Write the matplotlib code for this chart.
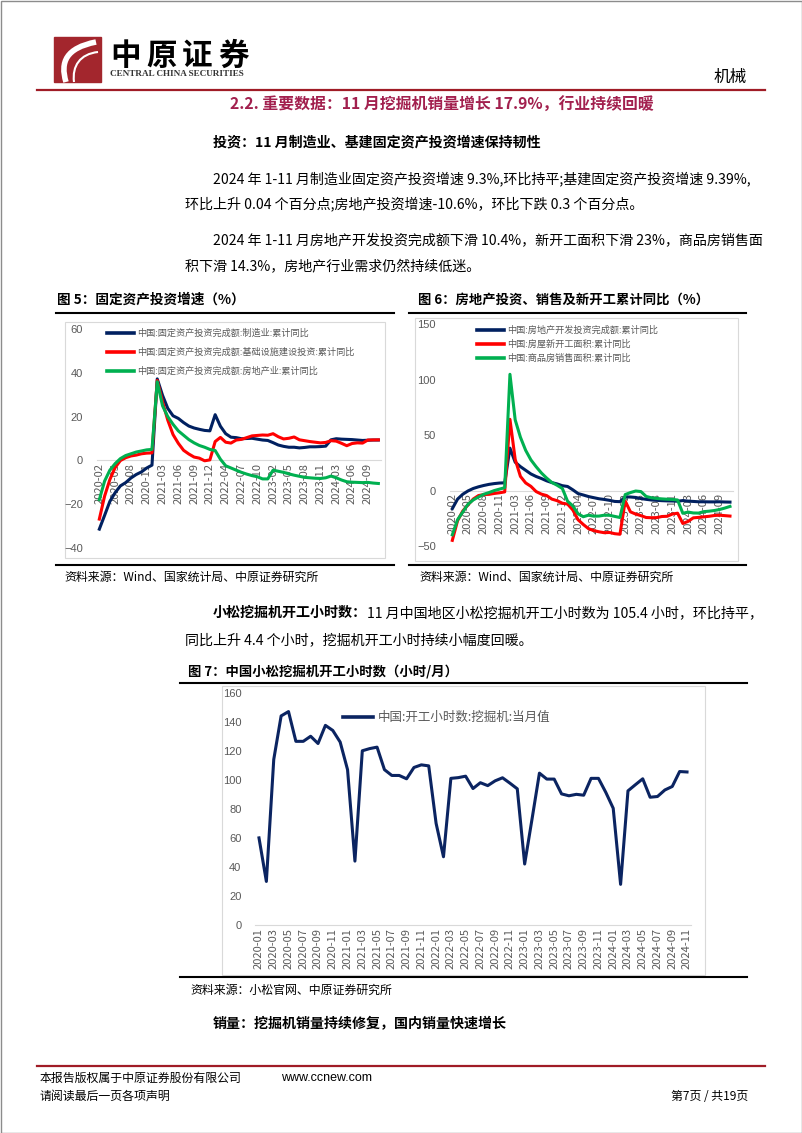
import matplotlib
matplotlib.use('Agg')
import matplotlib.pyplot as plt
from matplotlib.patches import Rectangle, PathPatch
from matplotlib.path import Path

plt.rcParams['font.family'] = ['Noto Sans CJK SC', 'DejaVu Sans']

# ---------------- data ----------------
# cumulative yoy series: Feb..Dec each year (Jan merged), 2020-02 .. 2024-11
cum_months = []
for yr in range(2020, 2025):
    last = 11 if yr == 2024 else 12
    for m in range(2, last + 1):
        cum_months.append('%d-%02d' % (yr, m))

fai_mfg = [-31.5, -25.2, -18.8, -14.8, -11.7, -10.2, -8.1, -6.5, -5.3, -3.5, -2.2,
           37.3, 29.8, 23.8, 20.4, 19.2, 17.3, 15.7, 14.8, 14.2, 13.7, 13.5,
           20.9, 15.6, 12.2, 10.6, 10.4, 9.9, 10.0, 10.1, 9.7, 9.3, 9.1,
           8.1, 7.0, 6.4, 6.0, 6.0, 5.7, 5.9, 6.2, 6.2, 6.3, 6.5,
           9.4, 9.9, 9.7, 9.6, 9.5, 9.3, 9.1, 9.2, 9.3, 9.3]
fai_infra = [-26.9, -16.4, -8.8, -3.3, -0.1, 1.2, 2.0, 2.4, 3.0, 3.3, 3.4,
             36.6, 26.8, 18.4, 11.8, 7.8, 4.6, 2.9, 1.5, 1.0, -0.2, 0.2,
             8.6, 10.5, 8.3, 7.9, 9.3, 9.6, 10.4, 11.2, 11.4, 11.6, 11.5,
             12.2, 10.8, 9.8, 10.1, 10.7, 9.4, 9.0, 8.6, 8.3, 8.0, 8.2,
             9.0, 8.8, 7.8, 6.7, 7.7, 8.0, 7.9, 9.3, 9.35, 9.39]
fai_estate = [-18.0, -9.5, -4.5, -1.5, 0.8, 2.2, 3.0, 3.8, 4.3, 4.8, 5.0,
              36.0, 25.0, 20.0, 16.5, 13.5, 11.5, 9.5, 8.0, 6.8, 6.0, 5.0,
              4.5, 0.5, -2.5, -3.5, -4.5, -5.5, -6.3, -7.0, -7.5, -8.5, -8.5,
              -4.5, -5.0, -5.5, -6.2, -6.8, -7.3, -7.8, -8.0, -8.2, -8.3, -8.0,
              -7.2, -8.0, -9.0, -9.8, -10.0, -10.1, -10.2, -10.1, -10.4, -10.6]

re_invest = [-16.3, -7.7, -3.3, -0.3, 1.9, 3.4, 4.6, 5.6, 6.3, 6.8, 7.0,
             38.3, 25.6, 21.6, 18.3, 15.0, 12.7, 10.9, 8.8, 7.2, 6.0, 4.4,
             3.7, 0.7, -2.7, -4.0, -5.4, -6.4, -7.4, -8.0, -8.8, -9.8, -10.0,
             -5.7, -5.8, -6.2, -7.2, -7.9, -8.5, -8.8, -9.1, -9.3, -9.4, -9.6,
             -9.0, -9.5, -9.8, -10.1, -10.1, -10.2, -10.2, -10.1, -10.3, -10.4]
re_newstart = [-44.9, -27.2, -18.4, -12.8, -7.6, -4.5, -3.6, -3.4, -2.6, -2.0, -1.2,
               64.3, 28.2, 12.8, 6.9, 3.8, -0.9, -3.2, -4.5, -7.7, -9.1, -11.4,
               -12.2, -17.5, -26.3, -30.6, -34.4, -36.1, -37.2, -38.0, -37.8, -38.9, -39.4,
               -9.4, -19.2, -21.2, -22.6, -24.3, -24.5, -24.4, -23.4, -23.2, -21.2, -20.4,
               -29.7, -27.8, -24.6, -24.2, -23.7, -23.2, -22.5, -22.2, -22.6, -23.0]
re_sales = [-39.9, -26.3, -19.3, -12.3, -8.4, -5.8, -3.3, -1.8, 0.0, 1.3, 2.6,
            104.9, 63.8, 48.1, 36.3, 27.7, 21.5, 15.9, 11.3, 7.3, 4.8, 1.9,
            -9.6, -13.8, -20.9, -23.6, -22.2, -23.1, -23.0, -22.2, -22.3, -23.3, -24.3,
            -3.6, -1.8, -0.4, -0.9, -5.3, -6.5, -7.1, -7.5, -7.8, -8.0, -8.5,
            -20.5, -19.4, -20.2, -20.3, -19.0, -18.6, -18.0, -17.1, -15.8, -14.3]

# Komatsu excavator working hours, monthly 2020-01 .. 2024-11
hour_months = []
for yr in range(2020, 2025):
    last = 11 if yr == 2024 else 12
    for m in range(1, last + 1):
        hour_months.append('%d-%02d' % (yr, m))

komatsu_hours = [60, 30, 114, 144, 147, 126.5, 126.5, 130, 125, 137.5, 134, 126,
                 107, 44, 120, 121.5, 122.5, 107, 103, 103, 100.7, 108.5, 110.3, 109.6,
                 70, 47, 101, 101.5, 102.5, 94, 98, 96, 99.3, 101.4, 97.7, 93.8,
                 42, 73, 104.6, 100.5, 100.5, 90.3, 89, 90, 89.4, 101, 101, 91.3,
                 80.4, 28, 92.4, 96.6, 100.7, 88, 88.5, 93, 95.4, 105.7, 105.4]

NAVY = '#002060'
RED = '#FF0000'
GREEN = '#00B050'
GRAY = '#595959'
LIGHT = '#D9D9D9'

W, H = 802, 1133


def rect(x0, y0, x1, y1):
    # pixel box -> figure fraction
    return [x0 / W, 1 - y1 / H, (x1 - x0) / W, (y1 - y0) / H]


fig = plt.figure(figsize=(W / 100, H / 100), dpi=100)
bg = fig.add_axes([0, 0, 1, 1], zorder=-1)
bg.set_xlim(0, W)
bg.set_ylim(H, 0)
bg.axis('off')


def line_chart(box, cats, series, ylim, yticks, step, legend_at, lfs, lspace, hlen):
    ax = fig.add_axes(rect(*box))
    ax.patch.set_alpha(0)
    x = list(range(len(cats)))
    handles = []
    for vals, col, lab in series:
        h, = ax.plot(x, vals, color=col, lw=2.2, zorder=3, solid_joinstyle='round')
        handles.append((h, lab))
    ax.set_xlim(-0.5, len(cats) - 0.5)
    ax.set_ylim(*ylim)
    ax.set_yticks(yticks)
    ax.set_xticks(x[::step])
    ax.set_xticklabels(cats[::step], fontfamily='Liberation Sans')
    for lab in ax.get_yticklabels():
        lab.set_fontfamily('Liberation Sans')
    for s in ['top', 'right', 'left']:
        ax.spines[s].set_visible(False)
    ax.spines['bottom'].set_position(('data', 0))
    ax.spines['bottom'].set_color(LIGHT)
    ax.spines['bottom'].set_linewidth(0.8)
    ax.tick_params(axis='x', length=0, labelrotation=90, labelsize=8, labelcolor=GRAY, pad=2)
    ax.tick_params(axis='y', length=0, labelsize=8, labelcolor=GRAY, pad=10)
    leg = ax.legend([h for h, _ in handles], [l for _, l in handles],
                    loc='upper left', bbox_to_anchor=(legend_at[0] / W, 1 - legend_at[1] / H),
                    bbox_transform=fig.transFigure, frameon=False, fontsize=lfs,
                    handlelength=hlen, handletextpad=0.4, labelspacing=lspace,
                    borderpad=0, borderaxespad=0, labelcolor=GRAY)
    for ln in leg.get_lines():
        ln.set_linewidth(2.6)
    return ax


# ---- chart 5
bg.add_patch(Rectangle((65, 322), 320, 236, fill=False, ec=LIGHT, lw=0.8))
line_chart((96.7, 329.3, 381.0, 547.7), cum_months,
           [(fai_mfg, NAVY, '中国:固定资产投资完成额:制造业:累计同比'),
            (fai_infra, RED, '中国:固定资产投资完成额:基础设施建设投资:累计同比'),
            (fai_estate, GREEN, '中国:固定资产投资完成额:房地产业:累计同比')],
           (-40, 60), [-40, -20, 0, 20, 40, 60], 3, (107, 329), 6.6, 1.05, 2.9)

# ---- chart 6
bg.add_patch(Rectangle((415, 318), 323, 243, fill=False, ec=LIGHT, lw=0.8))
line_chart((449.7, 324.3, 732.6, 546.0), cum_months,
           [(re_invest, NAVY, '中国:房地产开发投资完成额:累计同比'),
            (re_newstart, RED, '中国:房屋新开工面积:累计同比'),
            (re_sales, GREEN, '中国:商品房销售面积:累计同比')],
           (-50, 150), [-50, 0, 50, 100, 150], 3, (477, 326), 6.6, 0.5, 2.9)

# ---- chart 7
bg.add_patch(Rectangle((222, 686), 483, 289, fill=False, ec=LIGHT, lw=0.8))
line_chart((255.3, 692.7, 690.7, 925.0), hour_months,
           [(komatsu_hours, '#0B2461', '中国:开工小时数:挖掘机:当月值')],
           (0, 160), list(range(0, 161, 20)), 2, (343, 711), 9, 0.5, 2.4)

# ---------------- page furniture ----------------
bg.add_patch(Rectangle((0.5, 0.5), W - 1, H - 1, fill=False, ec='#8C8C8C', lw=1))

# logo
bg.add_patch(Rectangle((54, 37), 47, 45, color='#A3262D'))
swoosh = Path([(66, 82), (60, 62), (66, 48), (96, 42)],
              [Path.MOVETO, Path.CURVE4, Path.CURVE4, Path.CURVE4])
bg.add_patch(PathPatch(swoosh, fill=False, ec='white', lw=4))
swoosh2 = Path([(74, 82), (72, 66), (80, 54), (98, 52)],
               [Path.MOVETO, Path.CURVE4, Path.CURVE4, Path.CURVE4])
bg.add_patch(PathPatch(swoosh2, fill=False, ec='white', lw=1.5))
for i, ch in enumerate('中原证券'):
    bg.text(110 + i * 36, 56, ch, fontsize=22, weight='heavy', va='center', ha='left')
bg.text(110, 74, 'CENTRAL CHINA SECURITIES', fontsize=6.6, weight='bold',
        fontfamily='Liberation Serif', va='center', ha='left', color='#333333')
bg.text(747, 77, '机械', fontsize=12, va='center', ha='right')
bg.plot([37, 765], [90, 90], color='#A01C26', lw=1.6)

bg.text(442, 105, '2.2. 重要数据：11 月挖掘机销量增长 17.9%，行业持续回暖',
        fontsize=11.4, weight='bold', color='#A2204E', ha='center', va='center')

bg.text(213, 142, '投资：11 月制造业、基建固定资产投资增速保持韧性', fontsize=10.1,
        weight='bold', va='center')
body = [(213, 179, '2024 年 1-11 月制造业固定资产投资增速 9.3%,环比持平;基建固定资产投资增速 9.39%,'),
        (185, 204, '环比上升 0.04 个百分点;房地产投资增速-10.6%，环比下跌 0.3 个百分点。'),
        (213, 241, '2024 年 1-11 月房地产开发投资完成额下滑 10.4%，新开工面积下滑 23%，商品房销售面'),
        (185, 267, '积下滑 14.3%，房地产行业需求仍然持续低迷。')]
for bx, by, bt in body:
    bg.text(bx, by, bt, fontsize=10.1, va='center')

# chart titles / rules / sources
bg.text(57, 300, '图 5：固定资产投资增速（%）', fontsize=9.8, weight='bold', va='center')
bg.text(418, 300, '图 6：房地产投资、销售及新开工累计同比（%）', fontsize=9.6, weight='bold', va='center')
for x0, x1 in [(56, 394), (409, 746)]:
    bg.plot([x0, x1], [313, 313], color='black', lw=1.5)
    bg.plot([x0, x1], [565, 565], color='black', lw=1.5)
bg.text(64, 577, '资料来源：Wind、国家统计局、中原证券研究所', fontsize=8.6, va='center')
bg.text(419, 577, '资料来源：Wind、国家统计局、中原证券研究所', fontsize=8.6, va='center')

t1 = bg.text(213, 613, '小松挖掘机开工小时数：', fontsize=10.1, weight='bold', va='center')
bg.annotate('11 月中国地区小松挖掘机开工小时数为 105.4 小时，环比持平，',
            xy=(1, 0.5), xycoords=t1, fontsize=10.1, va='center', ha='left')
bg.text(185, 640, '同比上升 4.4 个小时，挖掘机开工小时持续小幅度回暖。', fontsize=10.1, va='center')

bg.text(188, 672, '图 7：中国小松挖掘机开工小时数（小时/月）', fontsize=9.6, weight='bold', va='center')
bg.plot([180, 747], [683, 683], color='black', lw=1.5)
bg.plot([180, 747], [977, 977], color='black', lw=1.5)
bg.text(190, 990, '资料来源：小松官网、中原证券研究所', fontsize=8.6, va='center')

bg.text(213, 1024, '销量：挖掘机销量持续修复，国内销量快速增长', fontsize=10.1, weight='bold', va='center')

# footer
bg.plot([37, 765], [1066, 1066], color='#A01C26', lw=1.6)
bg.text(40, 1078, '本报告版权属于中原证券股份有限公司', fontsize=8.6, va='center')
bg.text(281, 1078, 'www.ccnew.com', fontsize=9, fontfamily='Liberation Sans', va='center')
bg.text(40, 1096, '请阅读最后一页各项声明', fontsize=8.6, va='center')
bg.text(748, 1096, '第7页 / 共19页', fontsize=8.6, va='center', ha='right')

fig.savefig('out.png', dpi=100)
